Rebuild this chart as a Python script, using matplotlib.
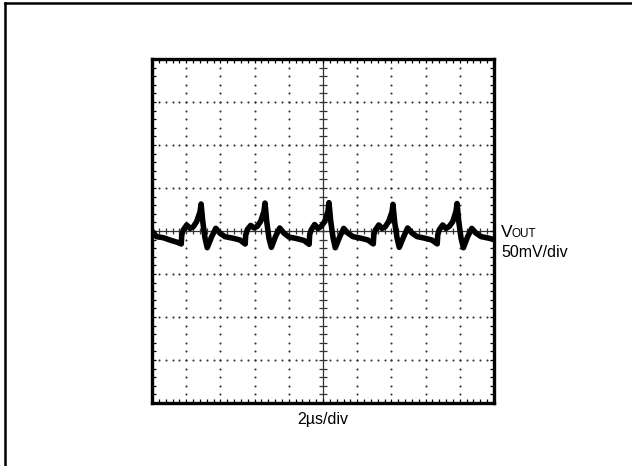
import numpy as np
import matplotlib.pyplot as plt
from matplotlib.lines import Line2D

# scope trace: time in us, output ripple in mV
t_us = [0.00, 0.27, 0.66, 1.05, 1.52, 1.71,
        1.74, 1.83, 2.03, 2.22, 2.42, 2.61, 2.81, 2.87, 2.97, 3.10, 3.23, 3.49, 3.73, 3.98, 4.27, 4.76, 5.15, 5.45,
        5.48, 5.57, 5.77, 5.97, 6.16, 6.36, 6.55, 6.61, 6.71, 6.84, 6.98, 7.23, 7.47, 7.72, 8.01, 8.50, 8.89, 9.19,
        9.22, 9.32, 9.51, 9.71, 9.90, 10.10, 10.29, 10.35, 10.45, 10.59, 10.72, 10.98, 11.21, 11.46, 11.75, 12.24, 12.63, 12.94,
        12.97, 13.06, 13.26, 13.45, 13.64, 13.84, 14.04, 14.09, 14.19, 14.33, 14.46, 14.72, 14.95, 15.21, 15.50, 15.98, 16.37, 16.68,
        16.71, 16.80, 17.00, 17.19, 17.39, 17.59, 17.78, 17.84, 17.94, 18.07, 18.21, 18.46, 18.70, 18.95, 19.24, 19.73, 20.00]
v_mV = [0.0, -6.6, -7.8, -10.5, -13.4, -15.1,
        -4.7, 1.2, 7.0, 3.1, 5.0, 10.8, 22.4, 31.4, 10.8, -8.1, -19.4, -6.6, 3.1, -2.7, -6.6, -8.5, -10.5, -15.1,
        -4.7, 1.5, 6.5, 3.5, 5.5, 11.5, 23.0, 32.5, 11.0, -8.5, -19.0, -6.0, 3.5, -2.5, -7.0, -9.0, -11.0, -15.5,
        -4.0, 1.5, 7.5, 3.0, 5.5, 11.0, 23.0, 33.0, 11.5, -8.0, -19.5, -6.5, 3.0, -2.5, -6.5, -8.5, -10.5, -15.0,
        -4.5, 1.0, 7.0, 3.0, 5.0, 11.0, 22.5, 31.0, 10.5, -8.0, -19.0, -6.5, 3.5, -2.5, -6.5, -8.5, -10.5, -15.0,
        -4.5, 1.5, 7.0, 3.0, 5.5, 11.0, 23.0, 32.0, 11.0, -8.0, -19.5, -6.5, 3.0, -2.5, -6.5, -8.5, -10.0]

# screen settings
x_div = 2.0    # us per division
y_div = 50.0   # mV per division
n_x, n_y = 10, 8

font = ['Liberation Sans', 'DejaVu Sans']

fig = plt.figure(figsize=(6.32, 4.66), dpi=100)
ax = fig.add_axes([152 / 632, 63 / 466, 342 / 632, 344 / 466])

x_max = n_x * x_div
y_max = n_y / 2 * y_div
ax.set_xlim(0, x_max)
ax.set_ylim(-y_max, y_max)

# dotted graticule
x_minor = np.arange(0, x_max + 1e-9, x_div / 5)
y_minor = np.arange(-y_max, y_max + 1e-9, y_div / 5)
for i in range(1, n_x):
    if i == n_x // 2:
        continue
    ax.plot(np.full(len(y_minor), i * x_div), y_minor, ls='none', marker='o',
            ms=1.5, mew=0, color='#333333', zorder=1)
for j in range(1, n_y):
    if j == n_y // 2:
        continue
    y = -y_max + j * y_div
    ax.plot(x_minor, np.full(len(x_minor), y), ls='none', marker='o',
            ms=1.5, mew=0, color='#333333', zorder=1)

# center cross with ticks
ax.axhline(0, color='#333333', lw=0.9, zorder=1)
ax.axvline(x_max / 2, color='#333333', lw=0.9, zorder=1)
ax.plot(x_minor, np.zeros(len(x_minor)), ls='none', marker='|', ms=5,
        mew=0.9, color='#333333', zorder=1)
ax.plot(np.full(len(y_minor), x_max / 2), y_minor, ls='none', marker='_', ms=6,
        mew=0.9, color='#333333', zorder=1)

# trace
ax.plot(t_us, v_mV, color='black', lw=4.0, solid_joinstyle='round', zorder=3)

# frame with inward ticks
ax.set_xticks(x_minor)
ax.set_yticks(y_minor)
ax.tick_params(direction='in', length=3, width=0.9, top=True, right=True,
               labelbottom=False, labelleft=False)
for s in ax.spines.values():
    s.set_linewidth(2.4)

# labels
fig.text(323 / 632, 1 - 424 / 466, '2\u00b5s/div', ha='center', va='baseline',
         fontsize=11.5, family=font)
v_txt = fig.text(501 / 632, 1 - 237 / 466, 'V', ha='left', va='baseline',
                 fontsize=12.5, family=font)
fig.canvas.draw()
v_right = v_txt.get_window_extent().x1
fig.text((v_right - 1) / 632, 1 - 237 / 466, 'OUT', ha='left', va='baseline',
         fontsize=8.5, family=font)
fig.text(501 / 632, 1 - 257 / 466, '50mV/div', ha='left', va='baseline',
         fontsize=11.5, family=font)

# outer frame (top and left edges only)
fig.add_artist(Line2D([5 / 632, 5 / 632], [0, 1 - 3 / 466], color='black', lw=1.8))
fig.add_artist(Line2D([5 / 632, 1], [1 - 3 / 466, 1 - 3 / 466], color='black', lw=1.8))

fig.savefig('out.png', dpi=100)
